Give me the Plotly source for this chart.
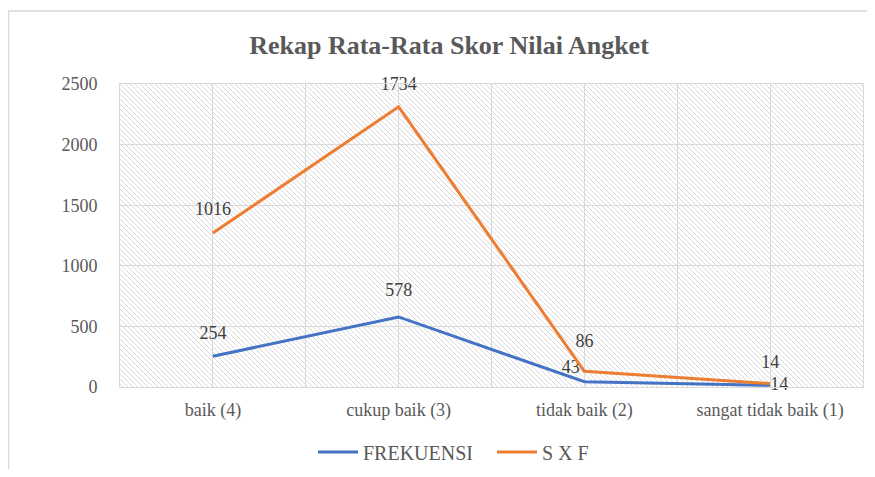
import base64
import plotly.graph_objects as go

categories = ["baik (4)", "cukup baik (3)", "tidak baik (2)", "sangat tidak baik (1)"]
frekuensi = [254, 578, 43, 14]
sxf = [1016, 1734, 86, 14]
y_ticks = [0, 500, 1000, 1500, 2000, 2500]

# page body has an 8px margin; figure sized so the page fits the window
W, H = 859, 461
L, T = 112, 76
PW, PH = 743, 303
R, B = W - L - PW, H - T - PH

FONT = "Liberation Serif"
GREY = "#595959"
BLUE = "#4472C4"
ORANGE = "#ED7D31"

xpos = list(range(len(categories)))

# hatched plot-area background (decoration)
svg = (
    f'<svg xmlns="http://www.w3.org/2000/svg" width="{PW}" height="{PH}">'
    '<defs><pattern id="h" patternUnits="userSpaceOnUse" width="5" height="5">'
    '<rect width="5" height="5" fill="#ffffff"/>'
    '<path d="M-1,-1 L6,6 M-1,4 L1,6 M4,-1 L6,1" stroke="#d9d9d9" stroke-width="1"/>'
    '</pattern></defs>'
    f'<rect width="{PW}" height="{PH}" fill="url(#h)"/></svg>'
)
src = "data:image/svg+xml;base64," + base64.b64encode(svg.encode()).decode()

nomark = dict(color="rgba(0,0,0,0)", line=dict(width=0, color="rgba(0,0,0,0)"))

fig = go.Figure()
fig.add_trace(go.Scatter(
    x=xpos, y=frekuensi, name="FREKUENSI", stackgroup="s", fill="none",
    mode="lines+markers+text", line=dict(color=BLUE, width=3),
    marker=dict(size=[18, 24, 6, 0], **nomark),
    text=[str(v) for v in frekuensi],
    textposition=["top center", "top center", "top left", "middle right"],
    textfont=dict(family=FONT, size=18, color="#404040"),
    cliponaxis=False, hoverinfo="skip",
))
fig.add_trace(go.Scatter(
    x=xpos, y=sxf, name="S X F", stackgroup="s", fill="none",
    mode="lines+markers+text", line=dict(color=ORANGE, width=3),
    marker=dict(size=[20, 18, 30, 16], **nomark),
    text=[str(v) for v in sxf],
    textposition="top center",
    textfont=dict(family=FONT, size=18, color="#404040"),
    cliponaxis=False, hoverinfo="skip",
))

fig.update_layout(
    width=W, height=H,
    margin=dict(l=L, r=R, t=T, b=B, autoexpand=False),
    paper_bgcolor="white",
    plot_bgcolor="rgba(0,0,0,0)",
    font=dict(family=FONT, color=GREY, size=18),
    title=dict(text="<b>Rekap Rata-Rata Skor Nilai Angket</b>",
               x=441 / W, xanchor="center", y=1 - 37 / H, yanchor="middle",
               font=dict(family=FONT, size=26, color=GREY)),
    showlegend=True,
    legend=dict(orientation="h", x=(305 - L) / PW, xanchor="left",
                y=-(444 - (T + PH)) / PH,
                yanchor="middle", font=dict(family=FONT, size=20, color=GREY),
                itemwidth=40, entrywidth=124),
    images=[dict(source=src, xref="paper", yref="paper", x=0, y=1,
                 sizex=1, sizey=1, sizing="stretch", layer="below",
                 xanchor="left", yanchor="top")],
    shapes=[
        dict(type="line", xref="paper", yref="paper",
             x0=(0 - L) / PW, x1=(W + 5 - L) / PW,
             y0=(T + PH - 3) / PH, y1=(T + PH - 3) / PH,
             line=dict(color="#d9d9d9", width=1.5)),
        dict(type="line", xref="paper", yref="paper",
             x0=(0.5 - L) / PW, x1=(0.5 - L) / PW,
             y0=(T + PH - 3) / PH, y1=-(H + 5 - T - PH) / PH,
             line=dict(color="#d9d9d9", width=1.5)),
    ],
)
fig.update_xaxes(
    range=[-0.5, len(categories) - 0.5],
    tickmode="array", tickvals=xpos, ticktext=categories,
    showgrid=True, gridcolor="#d9d9d9", gridwidth=1,
    minor=dict(tick0=-0.5, dtick=1, showgrid=True, gridcolor="#d9d9d9", gridwidth=1),
    showline=True, linecolor="#d9d9d9", linewidth=1, mirror=True,
    zeroline=False, ticks="", ticklabelstandoff=6,
    tickfont=dict(family=FONT, size=18, color=GREY),
)
fig.update_yaxes(
    range=[0, 2500], tickmode="array", tickvals=y_ticks,
    showgrid=True, gridcolor="#d9d9d9", gridwidth=1,
    showline=True, linecolor="#d9d9d9", linewidth=1, mirror=True,
    zeroline=False, ticks="", ticklabelstandoff=18,
    tickfont=dict(family=FONT, size=18, color=GREY),
)

fig.write_html("out.html")
